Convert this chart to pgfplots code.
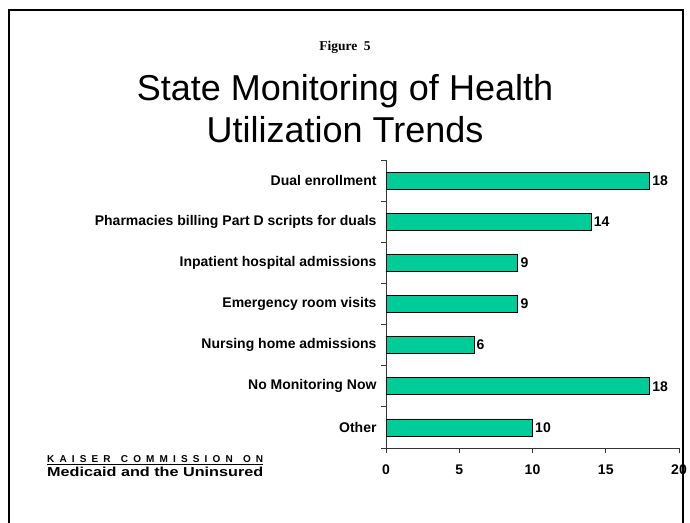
\documentclass[border=0pt]{standalone}
\usepackage{fontspec}
\setmainfont{Liberation Sans}
\newfontfamily\timesfont{Liberation Serif}
\usepackage{pgfplots}
\pgfplotsset{compat=1.18}
\definecolor{barg}{RGB}{0,204,153}
\begin{document}
\begin{tikzpicture}[x=1bp,y=1bp]
\path[use as bounding box] (0,0) rectangle (690,523);
\fill[white] (0,0) rectangle (690,523);
\draw[line width=2bp] (8.5,-3) -- (8.5,513) -- (682.5,513) -- (682.5,-3);
\node[font=\timesfont\bfseries\fontsize{13.5bp}{15bp}\selectfont] at (345,476) {Figure\ \ 5};
\node[anchor=base,font=\fontsize{36bp}{42bp}\selectfont] at (345,422) {State Monitoring of Health};
\node[anchor=base,font=\fontsize{36bp}{42bp}\selectfont] at (345,380) {Utilization Trends};
\node[anchor=base west,inner sep=0pt,font=\bfseries\fontsize{10bp}{11bp}\selectfont] (k) at (47,60)
  {\underline{\makebox[216bp][s]{K\hfill A\hfill I\hfill S\hfill E\hfill R\hfill\hfill C\hfill O\hfill M\hfill M\hfill I\hfill S\hfill S\hfill I\hfill O\hfill N\hfill\hfill O\hfill N}}};
\node[anchor=base west,inner sep=0pt,font=\bfseries\fontsize{13bp}{14bp}\selectfont] at (47,46) {\resizebox{216bp}{\height}{Medicaid and the Uninsured}};
\begin{axis}[
  at={(386bp,75bp)}, anchor=south west,
  scale only axis, width=293bp, height=288bp,
  xbar, bar width=17bp,
  xmin=0, xmax=20, ymin=-0.5, ymax=6.5, y dir=reverse,
  axis x line*=bottom, axis y line*=left,
  axis line style={-, line width=0.8bp, black!80},
  xtick={0,5,10,15,20},
  ytick={0,1,2,3,4,5,6},
  yticklabels={Dual enrollment,Pharmacies billing Part D scripts for duals,Inpatient hospital admissions,Emergency room visits,Nursing home admissions,No Monitoring Now,Other},
  minor ytick={-0.5,0.5,1.5,2.5,3.5,4.5,5.5,6.5},
  tick align=outside,
  major tick length=5bp, minor tick length=5bp,
  ytick style={draw=none},
  minor y tick style={draw=black!80, line width=0.8bp},
  xtick style={draw=black!80, line width=0.8bp},
  /pgf/number format/assume math mode=true,
  ticklabel style={font=\bfseries\fontsize{14bp}{15bp}\selectfont},
  yticklabel style={xshift=-1bp},
  xticklabel style={yshift=-8bp},
  nodes near coords,
  every node near coord/.append style={font=\bfseries\fontsize{14bp}{15bp}\selectfont, anchor=west, xshift=-1bp},
  clip=false,
]
\addplot[fill=barg, draw=black, line width=0.8bp] coordinates {(18,0) (14,1) (9,2) (9,3) (6,4) (18,5) (10,6)};
\end{axis}
\end{tikzpicture}
\end{document}
